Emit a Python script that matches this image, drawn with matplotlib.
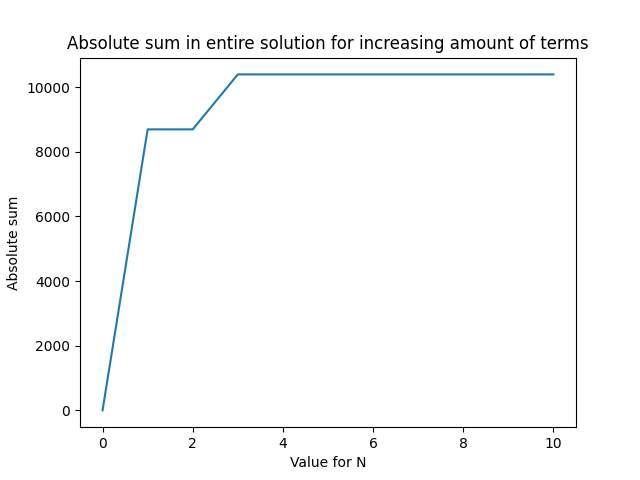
import matplotlib
matplotlib.use('Agg')
import matplotlib.pyplot as plt

n_values = [0, 1, 2, 3, 4, 5, 6, 7, 8, 9, 10]
abs_sum = [0, 8690, 8690, 10390, 10390, 10390, 10390, 10390, 10390, 10390, 10390]

plt.figure(figsize=(6.4, 4.8), dpi=100)
plt.plot(n_values, abs_sum)
plt.title('Absolute sum in entire solution for increasing amount of terms')
plt.xlabel('Value for N')
plt.ylabel('Absolute sum')
plt.savefig('out.png')
